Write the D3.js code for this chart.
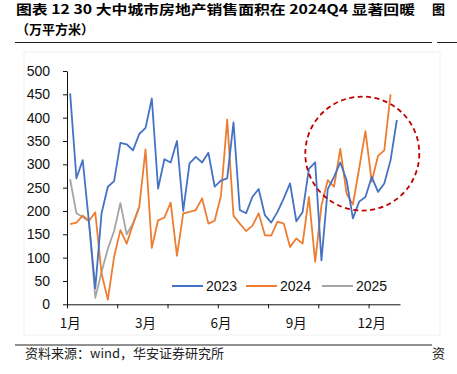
<!DOCTYPE html>
<html lang="zh">
<head>
  <meta charset="UTF-8">
  <title>30大中城市房地产销售面积</title>
  <script src="https://d3js.org/d3.v7.min.js"></script>
  <style>
    body { margin: 0; background: #fff; }
    svg { display: block; }
  </style>
</head>
<body>
  <svg width="457" height="374"></svg>

  <script>
    const width = 457;
    const height = 374;

    // weekly sales area (10k m2), week index 0..52
    const s2023 = [452, 270, 309, 175, 34, 195, 252, 264, 346, 343, 330, 365, 378, 441,
      248, 311, 304, 350, 200, 302, 316, 304, 325, 252, 265, 270, 390, 202, 195, 230,
      247, 191, 175, 198, 227, 259, 178, 198, 290, 304, 94, 247, 273, 304, 266, 184,
      220, 230, 273, 241, 259, 309, 395];
    const s2024 = [172, 175, 190, 179, 197, 66, 10, 102, 159, 130, 171, 209, 332, 121,
      180, 186, 218, 104, 195, 198, 202, 227, 173, 179, 232, 396, 190, 173, 157, 168,
      195, 148, 147, 177, 173, 123, 141, 130, 230, 91, 212, 266, 252, 333, 237, 214,
      291, 371, 263, 318, 330, 450];
    const s2025 = [268, 195, 187, 178, 14, 69, 119, 157, 217, 150, 173, 209];

    const seriesNames = ["2023", "2024", "2025"];
    const seriesColors = ["#4472C4", "#ED7D31", "#A5A5A5"];
    const nWeeks = 53;
    const yTicks = [0, 50, 100, 150, 200, 250, 300, 350, 400, 450, 500];
    const xLabels = [[0, "1月"], [12, "3月"], [24, "6月"], [36, "9月"], [48, "12月"]];

    const latin = "'Liberation Sans', Arial, sans-serif";
    const cjk = "'Noto Sans CJK SC', sans-serif";

    const svg = d3.select("svg");

    const plot = { left: 67, right: 400, top: 71, bottom: 304.3 };

    const x = d3.scaleBand()
      .domain(d3.range(nWeeks))
      .range([plot.left, plot.right]);
    const xc = i => x(i) + x.bandwidth() / 2;

    const xTickScale = d3.scaleLinear()
      .domain([0, nWeeks])
      .range([plot.left, plot.right]);

    const y = d3.scaleLinear()
      .domain([0, 500])
      .range([plot.bottom, plot.top]);

    // faint chart-area border
    svg.append("rect")
      .attr("x", 24).attr("y", 52).attr("width", 416).attr("height", 283)
      .attr("fill", "none").attr("stroke", "#f0f0f0");

    // title
    svg.append("text")
      .attr("x", 16).attr("y", 14)
      .attr("font-family", cjk).attr("font-weight", "bold").attr("font-size", 13)
      .attr("textLength", 399).attr("lengthAdjust", "spacingAndGlyphs")
      .text("图表 12 30 大中城市房地产销售面积在 2024Q4 显著回暖");
    svg.append("text")
      .attr("x", 432).attr("y", 14)
      .attr("font-family", cjk).attr("font-weight", "bold").attr("font-size", 13)
      .text("图");
    svg.append("text")
      .attr("x", 16).attr("y", 34)
      .attr("font-family", cjk).attr("font-weight", "bold").attr("font-size", 13)
      .text("（万平方米）");

    svg.append("line").attr("x1", 15).attr("x2", 432).attr("y1", 42.5).attr("y2", 42.5)
      .attr("stroke", "#222").attr("stroke-width", 1);
    svg.append("line").attr("x1", 437).attr("x2", 457).attr("y1", 42.5).attr("y2", 42.5)
      .attr("stroke", "#222").attr("stroke-width", 1);
    svg.append("line").attr("x1", 15).attr("x2", 432).attr("y1", 345).attr("y2", 345)
      .attr("stroke", "#222").attr("stroke-width", 1);

    svg.append("text")
      .attr("x", 25).attr("y", 358)
      .attr("font-family", cjk).attr("font-size", 13).attr("fill", "#222")
      .text("资料来源：wind，华安证券研究所");
    svg.append("text")
      .attr("x", 432).attr("y", 358)
      .attr("font-family", cjk).attr("font-size", 13).attr("fill", "#222")
      .text("资");

    // y axis
    const yAxis = svg.append("g")
      .attr("transform", `translate(${plot.left},0)`)
      .call(d3.axisLeft(y).tickValues(yTicks).tickSize(4).tickPadding(13).tickSizeOuter(0));
    yAxis.selectAll("text").attr("font-family", latin).attr("font-size", 14).attr("fill", "#111");
    yAxis.selectAll("line, path").attr("stroke", "#111");

    // x axis
    const xAxis = svg.append("g")
      .attr("transform", `translate(0,${plot.bottom})`)
      .call(d3.axisBottom(xTickScale).tickValues(d3.range(0, nWeeks, 8))
        .tickFormat("").tickSize(4).tickSizeOuter(0));
    xAxis.selectAll("line, path").attr("stroke", "#111");

    svg.append("g").selectAll("text")
      .data(xLabels)
      .join("text")
      .attr("x", d => xc(d[0]))
      .attr("y", 328)
      .attr("text-anchor", "middle")
      .attr("font-family", cjk).attr("font-size", 13.5).attr("fill", "#111")
      .text(d => d[1]);

    // lines
    const line = d3.line()
      .x((d, i) => xc(i))
      .y(d => y(d));

    const series = [s2023, s2024, s2025];
    svg.append("g").selectAll("path")
      .data([2, 1, 0])
      .join("path")
      .attr("d", k => line(series[k]))
      .attr("fill", "none")
      .attr("stroke", k => seriesColors[k])
      .attr("stroke-width", 1.8)
      .attr("stroke-linejoin", "round");

    // legend
    const legendX = [172, 246, 322];
    const legend = svg.append("g").selectAll("g")
      .data(seriesNames)
      .join("g")
      .attr("transform", (d, i) => `translate(${legendX[i]},286)`);
    legend.append("line")
      .attr("x1", 0).attr("x2", 31)
      .attr("stroke", (d, i) => seriesColors[i]).attr("stroke-width", 2);
    legend.append("text")
      .attr("x", 34).attr("y", 5)
      .attr("font-family", latin).attr("font-size", 14).attr("fill", "#111")
      .text(d => d);

    // annotation circle around 2024Q4
    const circleWeek = 46.5;
    const circleValue = 323;
    svg.append("circle")
      .attr("cx", xTickScale(circleWeek + 0.5))
      .attr("cy", y(circleValue))
      .attr("r", 57)
      .attr("fill", "none")
      .attr("stroke", "#C00000")
      .attr("stroke-width", 1.8)
      .attr("stroke-dasharray", "5,3.5");
  </script>
</body>
</html>
